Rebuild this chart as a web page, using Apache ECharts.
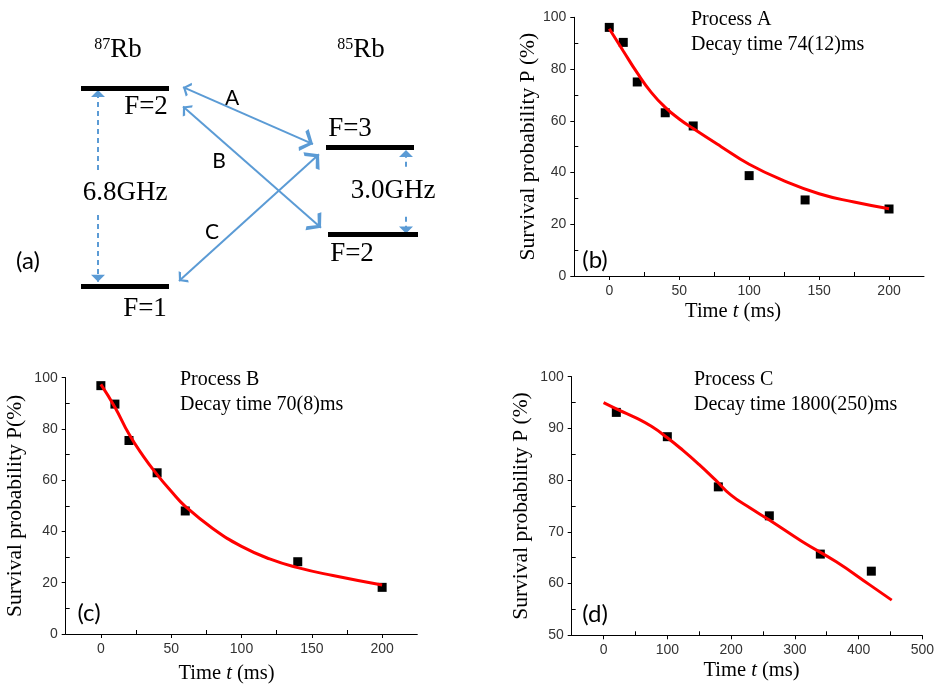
<!DOCTYPE html>
<html>
<head>
<meta charset="utf-8">
<script src="https://cdn.jsdelivr.net/npm/echarts@6/dist/echarts.min.js"></script>
<style>
  html, body { margin: 0; padding: 0; background: #fff; }
  #chart { width: 937px; height: 685px; }
</style>
</head>
<body>
<div id="chart"></div>
<script>
// (a) level diagram: x in diagram units, energy in GHz
const rb87X = [81, 169];
const rb87E = [6.8, 0];          // F=2, F=1
const rb85X = [[326, 414], [328, 418]];
const rb85E = [4.78, 1.78];      // F=3, F=2
const arrowA = [[183, 6.84], [313, 4.88]];
const arrowB = [[183, 6.17], [321, 2.0]];
const arrowC = [[179, 0.17], [319, 4.53]];
const split87 = [[[98, 3.99], [98, 6.74]], [[98, 2.44], [98, 0.15]]];
const split85 = [[[406, 4.10], [406, 4.68]], [[406, 2.38], [406, 1.81]]];

// (b) process A
const tA = [0, 10, 20, 40, 60, 100, 140, 200];
const pA = [96.1, 90.3, 75.0, 63.1, 58.0, 38.8, 29.4, 25.9];
const fitTA = [0, 10, 20, 30, 40, 50, 60, 80, 100, 125, 150, 175, 200];
const fitPA = [95.6, 87, 78.5, 71, 65.2, 60.7, 57, 50, 43.2, 36.8, 31.8, 28.6, 26];

// (c) process B
const tB = [0, 10, 20, 40, 60, 140, 200];
const pB = [96.9, 89.7, 75.5, 62.9, 48.0, 28.2, 18.2];
const fitTB = [0, 10, 20, 30, 40, 50, 60, 80, 100, 120, 140, 165, 200];
const fitPB = [97.4, 88.5, 78, 69.5, 62.2, 55.7, 49.8, 41, 34.2, 29.3, 25.9, 22.8, 19.1];

// (d) process C
const tC = [20, 100, 180, 260, 340, 420];
const pC = [93.1, 88.4, 78.7, 73.1, 65.7, 62.4];
const fitTC = [0, 25, 50, 75, 100, 125, 150, 175, 200, 230, 260, 312, 365, 417, 452];
const fitPC = [95, 93.5, 92.1, 90.4, 88.2, 85.7, 83, 80.1, 77.1, 74.6, 72.3, 68.1, 64.2, 59.8, 56.8];

// ticks
const ticks200 = [0, 50, 100, 150, 200];
const minor200 = [25, 75, 125, 175];
const ticks100 = [0, 20, 40, 60, 80, 100];
const minor100 = [10, 30, 50, 70, 90];
const ticks500 = [0, 100, 200, 300, 400, 500];
const minor500 = [50, 150, 250, 350, 450];
const ticks50 = [50, 60, 70, 80, 90, 100];
const minor50 = [55, 65, 75, 85, 95];

const serif = '"Liberation Serif", "Times New Roman", serif';
const sans = '"Liberation Sans", Arial, sans-serif';
const calibri = 'Lato, "Open Sans", sans-serif';
const blue = '#5b9bd5';

// open arrow head, tip at the centre of the symbol box
const chevron = 'path://M10,0 L20,13 L17,15.5 L10,5.5 L3,15.5 L0,13 Z M10,-15.5 L10.02,-15.5 L10,-15.48 Z';
const tri = 'path://M10,0 L20,15 L0,15 Z M10,-15 L10.02,-15 L10,-14.98 Z';

function mainX(gi, min, max, ticks, gap, shift) {
  return {
    type: 'value', gridIndex: gi, min: min, max: max, position: 'bottom',
    axisLine: { show: true, onZero: false, lineStyle: { color: '#000', width: 1 } },
    axisTick: { show: true, inside: false, length: 4, customValues: ticks, lineStyle: { color: '#000' } },
    axisLabel: { show: true, customValues: ticks, margin: 8, color: '#333', fontFamily: sans, fontSize: 14 },
    splitLine: { show: false },
    name: '{r|Time }{i|t}{r| (ms)}', nameLocation: 'middle', nameGap: gap,
    nameTextStyle: {
      padding: shift,
      rich: {
        r: { fontFamily: serif, fontSize: 20.5, color: '#000' },
        i: { fontFamily: serif, fontSize: 20.5, fontStyle: 'italic', color: '#000' }
      }
    }
  };
}
function minorX(gi, min, max, ticks) {
  return {
    type: 'value', gridIndex: gi, min: min, max: max, position: 'bottom',
    axisLine: { show: false, onZero: false },
    axisTick: { show: true, inside: true, length: 4, customValues: ticks, lineStyle: { color: '#000' } },
    axisLabel: { show: false },
    splitLine: { show: false }
  };
}
function mainY(gi, min, max, ticks, name, gap) {
  return {
    type: 'value', gridIndex: gi, min: min, max: max, position: 'left',
    axisLine: { show: true, onZero: false, lineStyle: { color: '#000', width: 1 } },
    axisTick: { show: true, inside: false, length: 4, customValues: ticks, lineStyle: { color: '#000' } },
    axisLabel: { show: true, customValues: ticks, margin: 8, color: '#333', fontFamily: sans, fontSize: 14 },
    splitLine: { show: false },
    name: name, nameLocation: 'middle', nameGap: gap,
    nameTextStyle: { fontFamily: serif, fontSize: 21.5, color: '#000' }
  };
}
function minorY(gi, min, max, ticks) {
  return {
    type: 'value', gridIndex: gi, min: min, max: max, position: 'left', offset: 0,
    axisLine: { show: false, onZero: false },
    axisTick: { show: true, inside: true, length: 4, customValues: ticks, lineStyle: { color: '#000' } },
    axisLabel: { show: false },
    splitLine: { show: false }
  };
}

function pts(xs, ys) {
  return xs.map(function (x, i) { return [x, ys[i]]; });
}

function arrowSeries(list, dashed, symbol, size) {
  return {
    type: 'lines', coordinateSystem: 'cartesian2d', xAxisIndex: 0, yAxisIndex: 0,
    clip: false, silent: true,
    symbol: dashed ? ['none', symbol] : [symbol, symbol],
    symbolSize: size,
    lineStyle: { color: blue, width: 2, type: dashed ? [5, 4] : 'solid', opacity: 1, curveness: 0 },
    data: list.map(function (c) { return { coords: c }; }),
    z: 3
  };
}

function levelSeries() {
  const data = [];
  rb87E.forEach(function (e) { data.push({ coords: [[rb87X[0], e], [rb87X[1], e]] }); });
  rb85E.forEach(function (e, i) { data.push({ coords: [[rb85X[i][0], e], [rb85X[i][1], e]] }); });
  return {
    type: 'lines', coordinateSystem: 'cartesian2d', xAxisIndex: 0, yAxisIndex: 0,
    clip: false, silent: true, symbol: 'none',
    lineStyle: { color: '#000', width: 5, opacity: 1, curveness: 0 },
    data: data, z: 4
  };
}

function fitLine(ai, xs, ys) {
  return {
    type: 'line', xAxisIndex: ai, yAxisIndex: ai, data: pts(xs, ys),
    smooth: 0.5, showSymbol: false, symbol: 'none',
    lineStyle: { color: '#ff0000', width: 3 }, z: 3
  };
}
function dots(ai, xs, ys) {
  return {
    type: 'scatter', xAxisIndex: ai, yAxisIndex: ai, data: pts(xs, ys),
    symbol: 'rect', symbolSize: 9, itemStyle: { color: '#000', opacity: 1 }, z: 2
  };
}

function txt(x, y, text, font, align) {
  return {
    type: 'text', x: x, y: y, silent: true,
    style: { text: text, font: font, fill: '#000', align: align || 'center', verticalAlign: 'middle' }
  };
}
function isotope(x, y, mass) {
  return {
    type: 'text', x: x, y: y, silent: true,
    style: {
      text: '{s|' + mass + '}{r|Rb}', align: 'center', verticalAlign: 'middle',
      rich: {
        s: { fontFamily: serif, fontSize: 16, verticalAlign: 'top', fill: '#000' },
        r: { fontFamily: serif, fontSize: 27, fill: '#000' }
      }
    }
  };
}

const chart = echarts.init(document.getElementById('chart'));

const option = {
  backgroundColor: '#fff',
  animation: false,
  grid: [
    { left: 0, top: 88.3, width: 470, height: 197.7 },
    { left: 574.3, top: 17.3, width: 349.7, height: 258.7 },
    { left: 65.7, top: 377.7, width: 351.6, height: 257.6 },
    { left: 571.7, top: 376.7, width: 352.3, height: 258.6 }
  ],
  xAxis: [
    { type: 'value', gridIndex: 0, min: 0, max: 470, show: false },
    mainX(1, -25, 225, ticks200, 25, [0, 32, 0, 0]),
    minorX(1, -25, 225, minor200),
    mainX(2, -25, 225, ticks200, 29, [0, 30, 0, 0]),
    minorX(2, -25, 225, minor200),
    mainX(3, -50, 500, ticks500, 25, [0, 0, 0, 9]),
    minorX(3, -50, 500, minor500)
  ],
  yAxis: [
    { type: 'value', gridIndex: 0, min: 0, max: 6.8, show: false },
    mainY(1, 0, 100, ticks100, 'Survival probability P (%)', 31),
    minorY(1, 0, 100, minor100),
    mainY(2, 0, 100, ticks100, 'Survival probability P(%)', 39),
    minorY(2, 0, 100, minor100),
    mainY(3, 50, 100, ticks50, 'Survival probability P (%)', 39),
    minorY(3, 50, 100, minor50)
  ],
  series: [
    levelSeries(),
    arrowSeries([arrowA, arrowB, arrowC], false, chevron, [15, 24]),
    arrowSeries(split87.concat(split85), true, tri, [7, 14]),
    dots(1, tA, pA),
    fitLine(1, fitTA, fitPA),
    dots(3, tB, pB),
    fitLine(3, fitTB, fitPB),
    dots(5, tC, pC),
    fitLine(5, fitTC, fitPC)
  ],
  graphic: [
    // panel (a) texts
    isotope(118, 50, '87'),
    isotope(361, 50, '85'),
    txt(146, 107, 'F=2', '27px ' + serif),
    txt(145, 309, 'F=1', '27px ' + serif),
    txt(350, 129, 'F=3', '27px ' + serif),
    txt(352, 254, 'F=2', '27px ' + serif),
    txt(125, 193, '6.8GHz', '27px ' + serif),
    txt(393, 191, '3.0GHz', '27px ' + serif),
    txt(232, 98, 'A', '21px ' + calibri),
    txt(219, 161, 'B', '21px ' + calibri),
    txt(212, 232, 'C', '21px ' + calibri),
    txt(28, 261, '(a)', '24px ' + calibri),
    // panel labels
    txt(595, 260, '(b)', '24px ' + calibri),
    txt(89, 613, '(c)', '24px ' + calibri),
    txt(595, 614, '(d)', '24px ' + calibri),
    // annotations
    txt(691, 19.3, 'Process A', '20px ' + serif, 'left'),
    txt(691, 44.3, 'Decay time 74(12)ms', '20px ' + serif, 'left'),
    txt(180, 380, 'Process B', '20px ' + serif, 'left'),
    txt(180, 405, 'Decay time 70(8)ms', '20px ' + serif, 'left'),
    txt(694, 380, 'Process C', '20px ' + serif, 'left'),
    txt(694, 405, 'Decay time 1800(250)ms', '20px ' + serif, 'left')
  ]
};

chart.setOption(option);
</script>
</body>
</html>
